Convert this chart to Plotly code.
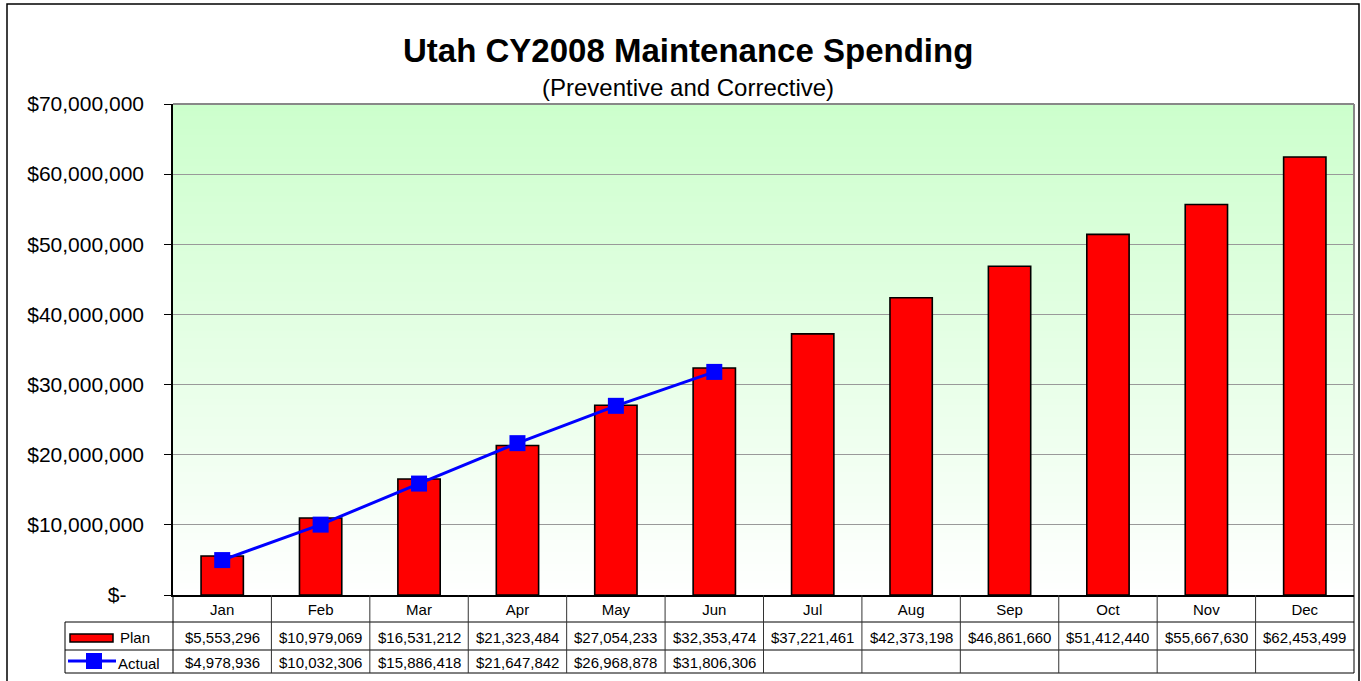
import plotly.graph_objects as go

months = ["Jan", "Feb", "Mar", "Apr", "May", "Jun", "Jul", "Aug", "Sep", "Oct", "Nov", "Dec"]
plan = [5553296, 10979069, 16531212, 21323484, 27054233, 32353474,
        37221461, 42373198, 46861660, 51412440, 55667630, 62453499]
actual = [4978936, 10032306, 15886418, 21647842, 26968878, 31806306]
ytick_vals = [0, 10000000, 20000000, 30000000, 40000000, 50000000, 60000000, 70000000]
ytick_text = ["$-" + "\u00a0" * 3] + [f"${v:,.0f}" for v in ytick_vals[1:]]

FW, FH = 1361, 681
# plot area in window pixels
L, R, T, B = 173, 1354, 104, 595
W, H = R - L, B - T
FONT = "Liberation Sans, Arial, sans-serif"


def px(x):
    return (x - L) / W


def py(y):
    return (B - y) / H


fig = go.Figure()
fig.add_trace(go.Bar(
    x=months, y=plan, name="Plan", width=0.43,
    marker=dict(color="#ff0000", line=dict(color="#000000", width=1.6)),
))
fig.add_trace(go.Scatter(
    x=months[:len(actual)], y=actual, name="Actual", mode="lines+markers",
    line=dict(color="#0000ff", width=3),
    marker=dict(symbol="square", size=16, color="#0000ff"),
))

shapes = []
# gradient background
n = 80
for i in range(n):
    t = (i + 0.5) / n
    r = int(round(255 + (204 - 255) * t))
    shapes.append(dict(type="rect", xref="paper", yref="paper", x0=0, x1=1,
                       y0=i / n, y1=(i + 1) / n + 0.002, layer="below",
                       line=dict(width=0), fillcolor=f"rgb({r},255,{r})"))
# plot area top/right border
shapes.append(dict(type="line", xref="paper", yref="paper", x0=0, x1=1, y0=1, y1=1,
                   line=dict(color="#888888", width=2)))
shapes.append(dict(type="line", xref="paper", yref="paper", x0=1, x1=1, y0=0, y1=1,
                   line=dict(color="#888888", width=2)))
# outer border
shapes.append(dict(type="rect", xref="paper", yref="paper", x0=px(7), x1=px(1359),
                   y0=py(700), y1=py(4), line=dict(color="#000000", width=1.5)))

# data table
row_hdr_bot, row_plan_bot, row_act_bot = 622, 650, 673
leg_left = 65
for yy in [row_hdr_bot, row_plan_bot, row_act_bot]:
    shapes.append(dict(type="line", xref="paper", yref="paper", x0=px(leg_left), x1=1,
                       y0=py(yy), y1=py(yy), line=dict(color="#000000", width=1)))
shapes.append(dict(type="line", xref="paper", yref="paper", x0=px(leg_left), x1=px(leg_left),
                   y0=py(row_hdr_bot), y1=py(row_act_bot), line=dict(color="#000000", width=1)))
shapes.append(dict(type="line", xref="paper", yref="paper", x0=0, x1=0,
                   y0=0, y1=py(row_act_bot), line=dict(color="#000000", width=1)))
shapes.append(dict(type="line", xref="paper", yref="paper", x0=1, x1=1,
                   y0=0, y1=py(row_act_bot), line=dict(color="#000000", width=1)))
for k in range(len(months) - 1):
    xb = k + 0.5
    shapes.append(dict(type="line", xref="x", yref="paper", x0=xb, x1=xb,
                       y0=0, y1=py(row_act_bot), line=dict(color="#333333", width=1)))

# legend keys in table
shapes.append(dict(type="rect", xref="paper", yref="paper", x0=px(70), x1=px(113),
                   y0=py(642), y1=py(634), fillcolor="#ff0000",
                   line=dict(color="#000000", width=1.5)))
shapes.append(dict(type="line", xref="paper", yref="paper", x0=px(68), x1=px(116),
                   y0=py(661), y1=py(661), line=dict(color="#0000ff", width=3)))
shapes.append(dict(type="rect", xref="paper", yref="paper", x0=px(86), x1=px(102),
                   y0=py(669), y1=py(653), fillcolor="#0000ff", line=dict(width=0)))


def ann(text, x, y, size, xref="paper", xanchor="center", bold=False):
    return dict(text=f"<b>{text}</b>" if bold else text, xref=xref, yref="paper",
                x=x, y=y, xanchor=xanchor, yanchor="middle", showarrow=False,
                font=dict(family=FONT, size=size, color="#000000"))


annotations = [
    ann("Utah CY2008 Maintenance Spending", px(688), py(50), 33, bold=True),
    ann("(Preventive and Corrective)", px(688), py(87), 24),
    ann("Plan", px(118), py(637), 15, xanchor="left"),
    ann("Actual", px(116), py(663), 15, xanchor="left"),
]
for i, m in enumerate(months):
    annotations.append(ann(f"${plan[i]:,.0f}", m, py(637), 15, xref="x"))
for i, v in enumerate(actual):
    annotations.append(ann(f"${v:,.0f}", months[i], py(662), 15, xref="x"))

fig.update_layout(
    width=FW, height=FH,
    margin=dict(l=L, r=FW - R, t=T, b=FH - B, pad=0),
    paper_bgcolor="#ffffff", plot_bgcolor="rgba(0,0,0,0)",
    showlegend=False,
    font=dict(family=FONT, color="#000000"),
    shapes=shapes, annotations=annotations,
    xaxis=dict(type="category", categoryorder="array", categoryarray=months,
               range=[-0.5, 11.5], showgrid=False, showline=True, linecolor="#000000",
               linewidth=1.5, ticks="", ticklen=0,
               tickfont=dict(family=FONT, size=15, color="#000000"),
               ticklabelstandoff=0, zeroline=False),
    yaxis=dict(range=[0, 70000000], tickvals=ytick_vals, ticktext=ytick_text,
               showgrid=True, gridcolor="#999999", gridwidth=1,
               showline=True, linecolor="#000000", linewidth=1.5,
               ticks="outside", ticklen=7, tickcolor="#000000",
               tickfont=dict(family=FONT, size=21, color="#000000"),
               ticklabelstandoff=16, zeroline=False),
    bargap=0.5,
)

fig.write_html("out.html", config={"displayModeBar": False},
               post_script="document.body.style.margin='0px';document.body.style.overflow='hidden';")
